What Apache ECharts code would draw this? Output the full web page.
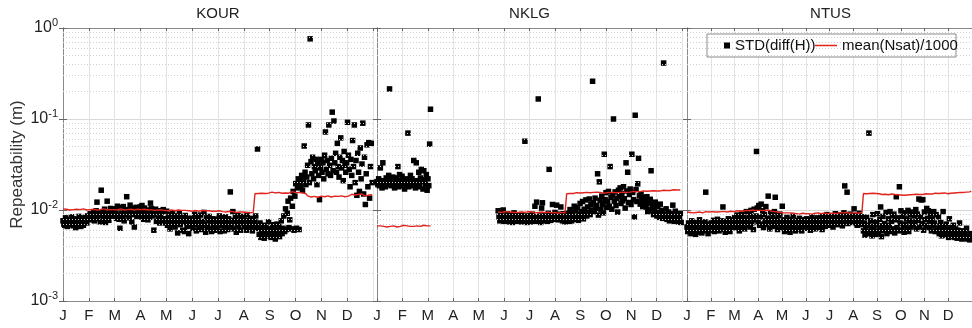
<!DOCTYPE html>
<html><head><meta charset="utf-8">
<script src="https://cdn.jsdelivr.net/npm/echarts@6/dist/echarts.min.js"></script>
<style>html,body{margin:0;padding:0;background:#fff}#c{width:972px;height:328px}</style>
</head><body><div id="c"></div>
<script>
// ---------- DATA (values in mm; 1 mm = 10^-3 m) ----------
const monthLabels = ['J','F','M','A','M','J','J','A','S','O','N','D','J'];
const stationNames = ['KOUR','NKLG','NTUS'];
const yTickExponents = ['-3','-2','-1','0']; // labels for 1, 10, 100, 1000 mm

// KOUR: daily STD(diff(H)) from day 0
const kourStd = [
7.6,7.0,6.8,8.2,7.3,6.6,7.9,7.1,6.9,7.7,8.4,7.2,6.7,8.0,7.5,6.4,7.8,6.9,7.3,8.5,7.0,6.6,7.4,8.1,6.8,7.6,8.3,7.9,7.2,8.6,8.0,
8.3,9.1,7.8,8.9,8.2,9.4,7.6,8.7,9.8,12.2,8.0,8.7,9.3,7.4,16.5,8.8,9.6,8.1,10.2,7.3,9.0,12.5,8.4,7.7,9.5,10.4,8.6,9.2,
9.4,8.6,10.3,9.7,8.1,11.0,9.0,7.9,6.3,10.6,9.2,8.4,10.9,7.6,9.9,8.8,14.0,10.1,9.5,8.2,11.3,9.6,7.4,10.4,8.9,6.5,9.8,10.7,8.5,9.3,10.0,
9.9,10.8,8.4,11.2,9.6,7.9,10.5,8.7,9.3,10.0,7.8,9.1,8.3,11.9,10.4,8.6,9.7,6.0,8.9,10.2,7.5,9.4,8.1,9.8,7.2,8.8,9.5,7.7,10.1,8.0,
8.0,7.2,9.7,6.8,8.4,7.5,6.2,8.9,7.0,9.3,7.7,8.3,6.5,7.1,8.6,5.6,7.9,9.1,6.9,7.4,8.2,6.0,7.6,5.8,8.7,7.3,6.6,8.1,5.5,7.8,6.7,
7.4,8.1,6.3,7.8,9.0,6.9,5.9,7.6,8.4,6.6,7.2,8.8,6.1,7.5,6.8,9.4,7.0,5.7,8.2,6.4,7.7,8.5,6.2,7.3,5.8,8.0,6.7,7.9,6.0,7.1,
7.9,6.4,7.3,8.6,5.8,7.0,8.2,6.7,7.6,5.9,8.4,6.9,7.4,6.1,8.0,7.2,15.8,6.5,7.7,9.6,6.2,7.4,8.3,5.7,7.0,8.7,6.6,7.5,6.0,7.9,8.5,
7.2,8.3,6.6,7.7,6.0,8.9,7.1,6.4,7.5,8.1,6.8,5.9,7.9,6.3,7.4,8.6,6.7,
46.8,6.3,5.4,7.2,5.0,6.0,5.6,6.8,4.9,5.8,6.5,5.2,6.1,7.4,5.5,6.2,5.0,5.7,6.9,5.3,6.4,4.8,5.9,7.0,5.4,6.6,5.1,6.0,7.6,5.5,6.3,
8.6,5.8,10.3,6.1,9.2,12.5,6.4,7.8,13.5,6.2,11.0,16.0,6.0,14.2,19.5,6.3,17.5,22.0,6.1,20.5,18.0,24.0,16.5,21.0,50.5,26.0,19.0,
23.0,31.0,86.0,20.0,760,34.0,25.0,38.0,22.0,30.0,27.0,36.0,19.0,32.0,24.0,13.0,29.0,
36.0,26.0,33.0,22.0,40.0,72.0,28.0,35.0,25.0,86.0,31.0,24.0,37.0,119,27.0,95.0,33.0,42.0,26.0,54.0,30.0,23.0,38.0,62.0,29.0,35.0,21.0,44.0,31.0,26.0,
33.0,92.0,40.0,28.0,18.0,36.0,24.0,58.0,30.0,86.0,20.0,35.0,14.5,42.0,26.0,16.0,48.0,22.0,32.0,90.0,15.0,38.0,11.5,25.0,52.0,18.0,55.0,13.5,30.0,54.0,20.0
];
// KOUR: mean(Nsat)/1000 every 2 days from day 0
const kourNsat = [
10.3,10.1,10.2,10.3,10.0,10.2,10.1,10.3,10.2,10.0,10.1,10.2,10.3,10.1,10.0,10.2,10.1,10.3,10.2,10.1,10.0,10.2,10.1,10.2,10.3,10.1,10.0,10.2,10.1,10.2,
10.1,10.2,10.0,10.1,10.3,10.1,10.0,10.2,10.1,10.0,10.2,10.1,10.0,10.1,10.2,10.0,10.1,10.0,10.2,10.1,10.0,9.9,10.1,10.0,9.9,10.1,10.0,9.9,10.0,10.1,
9.9,10.0,9.8,9.9,10.0,9.9,9.8,9.9,10.0,9.8,9.9,9.8,9.9,10.0,9.8,9.9,9.7,9.8,9.9,9.8,9.7,9.8,9.9,9.7,9.8,9.7,9.8,9.9,9.7,9.8,
9.7,9.6,9.8,9.7,9.6,9.7,9.5,9.6,9.7,9.5,9.6,9.5,9.4,9.6,9.5,9.4,9.5,9.3,9.4,9.5,9.3,9.4,9.4,
15.1,15.4,15.2,15.5,15.3,15.6,15.2,15.4,15.3,15.5,15.7,15.3,15.4,15.2,15.6,15.5,15.3,15.8,15.4,15.5,15.3,15.6,15.9,15.4,15.5,15.2,15.6,15.3,15.4,15.5,15.1,
14.3,14.8,13.9,14.5,14.1,14.7,13.8,14.4,14.2,14.9,14.0,14.5,14.3,14.6,13.9,14.4,14.2,14.7,14.1,14.5,14.3,14.8,14.0,14.6,14.2,14.4,14.9,14.3,14.6,14.1,14.8,14.4,15.0,14.5,14.2,14.9,14.6,15.1,14.7
];

// NKLG: two observed segments
const nklgStdStartA = 0;
const nklgStdA = [
20.5,19.0,22.0,18.5,29.0,21.0,17.5,33.0,20.0,19.5,18.0,22.5,20.5,19.0,24.0,214,21.5,18.5,20.0,23.0,
19.5,17.5,21.0,22.5,20.0,30.0,18.0,24.5,19.5,21.0,23.5,18.5,20.5,17.0,22.0,19.0,21.5,70.0,18.0,20.5,
24.0,19.0,22.0,18.5,35.0,20.0,17.5,33.0,21.0,19.5,26.0,18.0,22.5,28.0,20.5,17.0,27.0,21.5,19.0,24.5,
16.5,22.0,18.5,53.0,128
];
const nklgStdStartB = 145;
const nklgStdB = [
9.8,8.4,7.6,8.9,7.9,8.2,10.0,7.5,8.6,8.0,7.7,9.1,8.3,7.4,8.8,7.9,8.5,7.3,8.1,9.3,7.8,8.4,7.5,8.7,8.0,7.6,8.2,7.4,8.9,7.7,8.3,7.5,57.0,8.6,7.3,7.9,
8.1,7.6,8.7,7.4,8.3,9.0,7.7,8.2,11.0,7.5,12.2,8.4,166,7.8,8.6,7.3,10.5,12.0,8.1,7.6,8.9,7.9,8.4,7.5,9.2,28.0,8.0,7.7,8.8,11.5,8.3,
7.9,9.4,8.2,11.3,8.6,7.8,9.0,8.3,10.8,8.7,7.6,9.1,8.0,7.4,8.5,
7.8,9.2,8.4,7.5,10.1,8.8,7.6,9.5,8.2,11.0,7.9,9.8,8.5,10.6,7.7,9.0,11.8,8.3,9.6,12.4,8.0,10.2,9.1,12.9,8.6,10.8,9.4,13.2,8.9,11.5,10.0,260,
12.0,9.6,13.5,10.4,11.2,25.0,8.8,20.4,12.8,10.1,14.2,11.5,9.3,41.0,13.0,15.5,10.7,12.3,16.0,11.0,30.0,13.8,10.2,14.6,100,12.5,15.8,11.2,13.4,9.5,16.5,
14.0,17.5,11.8,15.2,12.6,18.0,13.3,10.5,33.0,16.2,26.0,12.1,14.8,17.0,11.5,41.0,15.6,13.0,8.4,110,16.8,12.4,19.4,37.0,14.3,11.6,15.0,12.8,10.9,13.7,11.3,
12.5,10.8,14.0,9.6,11.9,10.2,13.1,27.0,9.8,11.4,8.9,10.5,12.2,9.2,8.6,10.9,9.4,8.3,11.6,8.8,9.9,8.1,412,9.0,8.5,10.3,7.9,8.7,9.5,7.6,8.2,9.1,7.8,11.3,8.4,7.5,9.7,8.0,7.7,8.9,7.4,8.3,9.2,7.3
];
const nklgNsatStartA = 0;
const nklgNsatA = [
6.7,6.6,6.7,6.8,6.6,6.7,6.5,6.7,6.6,6.8,6.7,6.6,6.5,6.7,6.6,6.7,6.8,6.6,6.7,6.5,6.6,6.7,6.6,6.8,6.7,6.5,6.6,6.7,6.8,6.6,6.7,6.6,6.7
];
const nklgNsatStartB = 145;
const nklgNsatB = [
9.5,9.6,9.4,9.5,9.6,9.4,9.5,9.3,9.5,9.6,9.4,9.5,9.4,9.6,9.5,9.3,9.4,9.5,9.6,9.4,9.5,9.4,9.3,9.5,9.4,9.6,9.5,9.4,9.3,9.4,9.5,9.4,9.3,9.2,9.4,9.3,9.2,9.3,9.4,9.2,9.3,
15.1,15.3,15.2,15.4,15.2,15.3,15.5,15.3,15.4,15.2,15.5,15.4,15.6,15.3,15.5,15.4,15.6,15.5,15.7,15.4,15.6,15.5,15.3,15.6,15.5,15.7,15.6,15.4,15.6,15.8,
15.5,15.7,15.6,15.8,15.7,15.9,15.6,15.8,15.7,15.9,16.0,15.8,15.9,16.1,15.9,16.0,16.2,16.0,16.1,15.9,16.2,16.1,16.3,16.1,16.2,16.4,16.2,16.3,16.5,16.3,
16.4,16.6,16.4,16.5,16.7,16.5,16.6,16.8,16.6
];

// NTUS: daily STD(diff(H)) from day 0
const ntusStd = [
6.5,5.8,7.2,6.1,6.9,5.5,7.6,6.3,5.9,7.0,6.6,5.4,7.3,6.0,6.8,5.7,7.8,6.2,6.7,5.6,7.1,6.4,5.9,7.4,15.7,6.1,6.8,5.5,7.0,6.3,6.6,
7.2,6.0,6.9,7.7,5.8,6.5,7.4,6.2,7.9,6.7,5.9,7.1,6.4,7.6,6.1,10.8,6.8,7.3,5.7,6.6,7.5,6.3,8.0,6.9,5.8,7.2,6.5,7.8,
6.9,7.6,8.2,6.4,7.3,8.8,6.7,7.9,5.9,8.5,7.1,9.2,6.6,7.7,8.3,6.2,7.4,9.6,8.0,6.8,7.5,8.9,6.5,9.9,7.2,8.4,6.1,10.2,7.8,8.6,44.0,
10.5,7.3,11.2,6.8,8.4,11.6,7.0,9.8,6.4,8.9,7.6,10.9,6.9,8.1,14.2,7.4,6.2,9.3,7.8,6.6,8.5,7.1,9.6,13.8,6.8,7.9,6.1,8.7,7.2,9.0,
7.5,6.4,11.0,6.9,7.8,5.8,7.2,6.5,8.3,6.0,7.6,6.7,5.7,7.9,6.3,7.1,8.6,6.6,7.4,5.9,6.8,7.7,6.2,7.3,8.1,6.5,7.0,5.9,7.5,6.9,7.8,
6.6,7.4,8.0,6.3,7.1,6.8,7.7,6.0,7.3,8.4,6.5,7.0,7.9,6.2,7.5,6.9,8.2,6.4,7.2,7.8,6.7,8.6,6.1,7.4,7.0,8.1,6.6,7.6,8.9,6.9,
7.3,8.0,6.8,7.7,8.5,7.1,6.5,8.2,7.4,9.1,7.0,7.8,8.4,6.9,7.6,8.8,7.2,8.1,6.7,7.9,9.3,18.4,7.5,8.6,15.7,7.1,8.3,7.7,9.0,7.3,8.0,
8.2,7.4,10.3,7.9,8.7,7.1,6.8,8.5,7.6,9.2,7.3,8.0,6.9,8.4,
5.9,7.2,5.3,6.4,8.3,5.7,6.8,70.0,5.5,7.6,6.1,5.2,8.9,6.6,5.8,7.4,5.4,6.9,9.1,5.6,6.3,7.9,10.8,5.1,6.7,8.5,5.9,7.1,6.0,9.4,5.5,6.5,8.0,
6.8,9.6,5.8,7.5,8.7,6.2,9.0,5.6,7.8,14.0,6.4,8.2,5.9,18.0,7.2,9.8,6.0,8.5,6.7,5.7,9.3,7.0,8.0,6.3,9.9,5.8,7.6,8.8,6.5,7.3,9.5,
6.9,8.6,7.4,10.1,6.2,9.0,7.7,13.2,6.5,8.4,12.9,7.1,13.0,6.0,9.5,7.8,6.7,10.4,8.1,9.8,6.4,7.5,9.2,5.9,8.0,6.8,9.6,7.2,5.8,8.9,6.3,
6.0,8.4,5.5,6.7,7.3,5.2,6.2,9.6,5.7,6.5,5.3,7.0,5.9,6.1,5.0,8.0,5.6,6.4,5.1,5.8,6.8,5.4,5.0,6.2,5.5,4.9,6.0,5.3,7.2,5.1,
5.6,4.8,5.9,5.2,4.9,5.7,5.0,6.3,4.8,5.4,5.1,4.7,5.5,4.9
];
// NTUS: mean(Nsat)/1000 every 2 days from day 0
const ntusNsat = [
9.5,9.6,9.4,9.5,9.3,9.5,9.4,9.6,9.5,9.4,9.3,9.5,9.6,9.4,9.5,9.5,9.6,9.4,9.5,9.6,9.5,9.7,9.6,9.5,9.6,9.7,9.5,9.6,9.7,9.8,
9.6,9.7,9.8,9.6,9.7,9.9,9.7,9.8,9.9,9.7,9.8,9.9,10.0,9.8,9.9,
10.0,9.9,10.1,9.9,10.0,9.8,9.9,10.0,9.8,9.7,9.8,9.6,9.7,9.5,9.6,9.4,9.5,9.3,9.4,9.3,9.2,9.3,9.1,9.2,9.3,
9.1,9.2,9.0,9.1,9.2,9.0,9.1,9.3,9.1,9.2,9.0,9.1,9.2,9.1,9.3,9.2,9.1,9.2,9.3,9.2,9.1,9.3,9.2,9.4,9.2,9.3,9.1,9.3,9.4,9.2,
9.3,9.2,9.4,9.3,9.2,9.4,9.3,9.5,9.3,9.4,9.2,9.3,9.4,
15.2,15.3,15.1,15.4,15.2,15.0,15.3,15.1,15.2,14.9,15.1,15.0,14.8,15.1,14.9,15.0,14.7,14.9,15.0,14.6,
14.8,14.5,14.7,14.4,14.6,14.8,14.5,14.3,14.6,14.4,14.7,14.5,14.8,14.6,14.9,14.7,14.8,15.0,14.8,14.9,
15.1,14.9,15.0,15.2,15.0,15.1,15.3,15.1,15.2,15.0,15.3,15.2,15.4,15.3,15.1,15.4,15.3,15.5,15.4,15.6,
15.5,15.7,15.6,15.8,15.6,15.9,15.7,16.0,15.8,16.1
];

// ---------- CHART ----------
const FONT = '"Liberation Sans", Arial, Helvetica, sans-serif';
const DAYS_PER_YEAR = 365;
function pts(arr, startDay, step) {
  return arr.map((v, i) => [(startDay + i * step) * 12 / DAYS_PER_YEAR, v]);
}
const grids = [
  {left: 63, top: 28, width: 310, height: 273},
  {left: 377, top: 28, width: 305, height: 273},
  {left: 687, top: 28, width: 287, height: 273}
];
const minorLines = [];
[1, 10, 100].forEach(d => { for (let k = 2; k <= 9; k++) minorLines.push({yAxis: d * k}); });

const AX = '#8a8a8a';
const xAxes = [], yAxes = [], titles = [];
grids.forEach((g, i) => {
  xAxes.push({
    type: 'value', gridIndex: i, min: 0, max: 12, interval: 1, position: 'bottom',
    axisLine: {show: true, lineStyle: {color: AX}},
    axisTick: {show: true, inside: true, length: 3, lineStyle: {color: '#666'}},
    axisLabel: {show: true, color: '#222', fontSize: 15, fontFamily: FONT, margin: 7,
      showMinLabel: true, showMaxLabel: false,
      formatter: v => monthLabels[Math.round(v)] || ''},
    splitLine: {show: true, lineStyle: {color: '#e3e3e3', width: 1}}
  });
  xAxes.push({
    type: 'value', gridIndex: i, min: 0, max: 12, interval: 1, position: 'top',
    axisLine: {show: true, lineStyle: {color: AX}},
    axisTick: {show: true, inside: true, length: 3, lineStyle: {color: '#666'}},
    axisLabel: {show: false}, splitLine: {show: false}
  });
  yAxes.push({
    type: 'log', logBase: 10, gridIndex: i, min: 1, max: 1000, position: 'left',
    axisLine: {show: true, lineStyle: {color: AX}},
    axisTick: {show: true, inside: true, length: 4, lineStyle: {color: '#666'}},
    splitLine: {show: true, lineStyle: {color: '#d9d9d9', width: 1}},
    name: i === 0 ? 'Repeatability (m)' : '',
    nameLocation: 'middle', nameGap: 37, nameRotate: 90,
    nameTextStyle: {color: '#333', fontSize: 17, fontFamily: FONT},
    axisLabel: i === 0 ? {
      show: true, margin: 5,
      formatter: v => '{b|10}{s|' + yTickExponents[Math.round(Math.log10(v))] + '}',
      rich: {
        b: {fontSize: 16, color: '#222', fontFamily: FONT, lineHeight: 22},
        s: {fontSize: 11, color: '#222', fontFamily: FONT, lineHeight: 11, verticalAlign: 'top'}
      }
    } : {show: false}
  });
  yAxes.push({
    type: 'log', logBase: 10, gridIndex: i, min: 1, max: 1000, position: 'right',
    axisLine: {show: true, lineStyle: {color: AX}},
    axisTick: {show: true, inside: true, length: 4, lineStyle: {color: '#666'}},
    axisLabel: {show: false}, splitLine: {show: false}
  });
  titles.push({
    text: stationNames[i], left: g.left + g.width / 2, top: 6, padding: 0, textAlign: 'center',
    textStyle: {fontSize: 15, fontWeight: 'normal', color: '#222', fontFamily: FONT}
  });
});

const STD = 'STD(diff(H))', NSAT = 'mean(Nsat)/1000';
const RED = '#e0231d';
// minor (2..9 per decade) dotted grid lines, drawn under the data
function minorGrid(i) {
  return {
    type: 'line', xAxisIndex: 2 * i, yAxisIndex: 2 * i, data: [], z: 1, silent: true,
    markLine: {
      silent: true, symbol: ['none', 'none'], label: {show: false}, animation: false,
      lineStyle: {type: [1, 2], color: '#cfcfcf', width: 1, opacity: 1}, emphasis: {disabled: true},
      data: minorLines
    }
  };
}
function scatter(i, data) {
  return {
    name: STD, type: 'scatter', xAxisIndex: 2 * i, yAxisIndex: 2 * i,
    symbol: 'rect', symbolSize: 5.5, large: false,
    itemStyle: {color: '#000', opacity: 1},
    emphasis: {disabled: true}, data: data, z: 3
  };
}
function line(i, data) {
  return {
    name: NSAT, type: 'line', xAxisIndex: 2 * i, yAxisIndex: 2 * i, symbol: 'none',
    lineStyle: {color: RED, width: 1.4}, itemStyle: {color: RED}, data: data, z: 4
  };
}
const series = [
  minorGrid(0), minorGrid(1), minorGrid(2),
  scatter(0, pts(kourStd, 0, 1)),
  line(0, pts(kourNsat, 0, 2)),
  scatter(1, pts(nklgStdA, nklgStdStartA, 1)),
  scatter(1, pts(nklgStdB, nklgStdStartB, 1)),
  line(1, pts(nklgNsatA, nklgNsatStartA, 2)),
  line(1, pts(nklgNsatB, nklgNsatStartB, 2)),
  scatter(2, pts(ntusStd, 0, 1)),
  line(2, pts(ntusNsat, 0, 2))
];

const chart = echarts.init(document.getElementById('c'), null, {renderer: 'canvas'});
chart.setOption({
  animation: false,
  backgroundColor: '#fff',
  title: titles,
  grid: grids,
  xAxis: xAxes,
  yAxis: yAxes,
  graphic: [{
    type: 'rect', z: 3, silent: true,
    shape: {x: 707, y: 34, width: 249, height: 23},
    style: {fill: '#fff', stroke: '#8a8a8a', lineWidth: 1}
  }],
  legend: [
    {data: [{name: STD, icon: 'rect'}], left: 724, top: 38, padding: 0, itemWidth: 6, itemHeight: 6, itemGap: 0,
     selectedMode: false, textStyle: {fontSize: 15, color: '#111', fontFamily: FONT}, z: 6},
    {data: [{name: NSAT, icon: 'rect'}], left: 815, top: 38, padding: 0, itemWidth: 22, itemHeight: 1.5, itemGap: 0,
     selectedMode: false, textStyle: {fontSize: 15, color: '#111', fontFamily: FONT}, z: 6}
  ],
  series: series
});
</script></body></html>
